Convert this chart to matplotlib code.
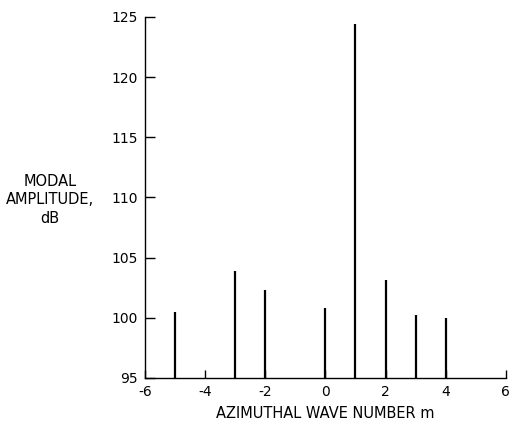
import matplotlib.pyplot as plt

plt.rcParams['font.family'] = ['DejaVu Sans Condensed', 'DejaVu Sans']

# modal amplitude per azimuthal wave number
m = [-5, -3, -2, 0, 1, 2, 3, 4]
amp = [100.5, 103.9, 102.3, 100.8, 124.4, 103.1, 100.2, 100.0]

xticks = [-6, -4, -2, 0, 2, 4, 6]
yticks = [95, 100, 105, 110, 115, 120, 125]

fig = plt.figure(figsize=(5.1, 4.25), dpi=100)
ax = fig.add_axes([0.284, 0.111, 0.708, 0.849])

ax.vlines(m, 95, amp, colors='black', linewidth=1.6)

ax.set_xlim(-6, 6)
ax.set_ylim(95, 125)
ax.set_xticks(xticks)
ax.set_yticks(yticks)
ax.set_xticklabels([str(t) for t in xticks])
ax.tick_params(direction='in', length=7, width=1, labelsize=10, colors='black')
ax.tick_params(axis='x', length=6, pad=5)
ax.tick_params(axis='y', pad=5)

for s in ['top', 'right']:
    ax.spines[s].set_visible(False)
for s in ['left', 'bottom']:
    ax.spines[s].set_linewidth(1.0)

ax.set_xlabel('AZIMUTHAL WAVE NUMBER m', fontsize=10.5, labelpad=5,
              family='DejaVu Sans')
fig.text(0.098, 0.53, 'MODAL\nAMPLITUDE,\ndB', ha='center', va='center',
         fontsize=10.5, linespacing=1.3, family='DejaVu Sans')

fig.savefig('out.png', dpi=100)
